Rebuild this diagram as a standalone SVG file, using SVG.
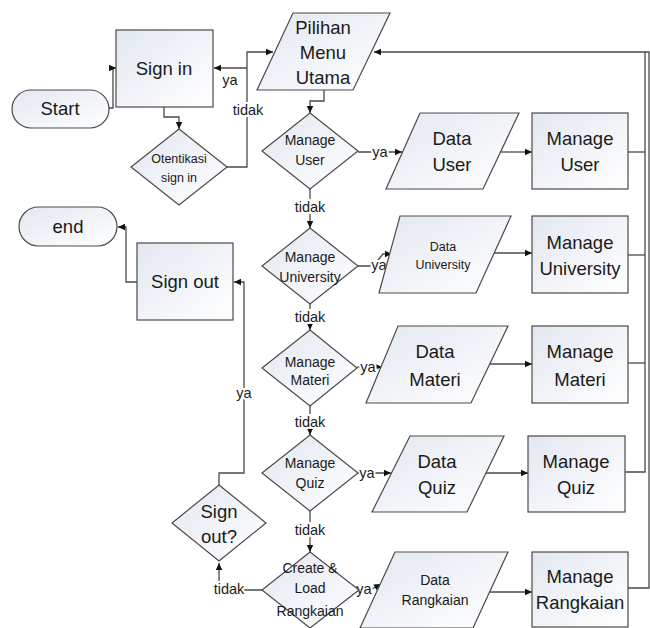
<svg xmlns="http://www.w3.org/2000/svg" width="650" height="628" viewBox="0 0 650 628">
  <defs>
    <linearGradient id="fillGrad" x1="0" y1="0" x2="1" y2="1">
      <stop offset="0" stop-color="#e2e7f0"/>
      <stop offset="1" stop-color="#ffffff"/>
    </linearGradient>
    <marker id="arrow" markerWidth="8" markerHeight="8" refX="7" refY="4" orient="auto" markerUnits="userSpaceOnUse">
      <path d="M0,0.8 L7,4 L0,7.2 Z" fill="#111"/>
    </marker>
  </defs>
  <style>
    .shape { fill: url(#fillGrad); stroke: #4a4a4a; stroke-width: 1.2; }
    .conn { fill: none; stroke: #4a4a4a; stroke-width: 1.3; }
    text { font-family: "Liberation Sans", Arial, sans-serif; fill: #1a1a1a; text-anchor: middle; }
    .big { font-size: 18.5px; }
    .mid { font-size: 14px; }
    .sm { font-size: 12.5px; }
    .lbl { font-size: 14.5px; stroke: #ffffff; stroke-width: 4; paint-order: stroke; }
  </style>
  <rect width="650" height="628" fill="#ffffff"/>

  <!-- connectors -->
  <g id="connectors">
    <path class="conn" d="M109,108 H113 V68 H116" marker-end="url(#arrow)"/>
    <path class="conn" d="M164,107 V117 H179 V129" marker-end="url(#arrow)"/>
    <path class="conn" d="M227,167 H247 V52 H273" marker-end="url(#arrow)"/>
    <path class="conn" d="M247,68 H214" marker-end="url(#arrow)"/>
    <path class="conn" d="M324,90 V101 H310 V113" marker-end="url(#arrow)"/>

    <path class="conn" d="M358,152 H402" marker-end="url(#arrow)"/>
    <path class="conn" d="M500,152 H532" marker-end="url(#arrow)"/>
    <path class="conn" d="M310,189 V228" marker-end="url(#arrow)"/>

    <path class="conn" d="M358,266 H373 L383,254 H392" marker-end="url(#arrow)"/>
    <path class="conn" d="M493,253 H532" marker-end="url(#arrow)"/>
    <path class="conn" d="M310,304 V330" marker-end="url(#arrow)"/>

    <path class="conn" d="M357,367 H382" marker-end="url(#arrow)"/>
    <path class="conn" d="M489,364 H532" marker-end="url(#arrow)"/>
    <path class="conn" d="M310,406 V435" marker-end="url(#arrow)"/>

    <path class="conn" d="M358,473 H391" marker-end="url(#arrow)"/>
    <path class="conn" d="M486,473 H528" marker-end="url(#arrow)"/>
    <path class="conn" d="M310,511 V552" marker-end="url(#arrow)"/>

    <path class="conn" d="M358,590 H370 L381,584" marker-end="url(#arrow)"/>
    <path class="conn" d="M490,592 H532" marker-end="url(#arrow)"/>

    <!-- return lines to the main menu -->
    <path class="conn" d="M628,152 H645"/>
    <path class="conn" d="M628,255 H645"/>
    <path class="conn" d="M628,363 H645"/>
    <path class="conn" d="M625,472 H645 V52"/>
    <path class="conn" d="M628,588 H649 V52 H374" marker-end="url(#arrow)"/>

    <!-- sign out branch -->
    <path class="conn" d="M262,590 H219 V563" marker-end="url(#arrow)"/>
    <path class="conn" d="M219,485 V473 H244 V282 H234" marker-end="url(#arrow)"/>
    <path class="conn" d="M137,282 H126 V227 H118" marker-end="url(#arrow)"/>

    <!-- connector labels -->
    <text class="lbl" x="230" y="85">ya</text>
    <text class="lbl" x="248" y="115">tidak</text>
    <text class="lbl" x="380" y="157">ya</text>
    <text class="lbl" x="310" y="212">tidak</text>
    <text class="lbl" x="379" y="270">ya</text>
    <text class="lbl" x="310" y="322">tidak</text>
    <text class="lbl" x="368" y="372">ya</text>
    <text class="lbl" x="310" y="427">tidak</text>
    <text class="lbl" x="367" y="478">ya</text>
    <text class="lbl" x="310" y="535">tidak</text>
    <text class="lbl" x="364" y="594">ya</text>
    <text class="lbl" x="229" y="594">tidak</text>
    <text class="lbl" x="244" y="398">ya</text>
  </g>

  <g id="start">
    <rect class="shape" x="12" y="90" width="97" height="38" rx="19"/>
    <text class="big" x="60" y="115">Start</text>
  </g>
  <g id="end">
    <rect class="shape" x="19" y="207" width="98" height="39" rx="19.5"/>
    <text class="big" x="68" y="233">end</text>
  </g>
  <g id="sign-in">
    <rect class="shape" x="116" y="30" width="97" height="77"/>
    <text class="big" x="164" y="75">Sign in</text>
  </g>
  <g id="otentikasi">
    <polygon class="shape" points="179,129 227,167 179,205 131,167"/>
    <text class="sm" x="179" y="163">Otentikasi</text>
    <text class="sm" x="179" y="182">sign in</text>
  </g>
  <g id="pilihan-menu">
    <polygon class="shape" points="293,13 390,13 353,90 257,90"/>
    <text class="big" x="323" y="34">Pilihan</text>
    <text class="big" x="323" y="59">Menu</text>
    <text class="big" x="323" y="84">Utama</text>
  </g>
  <g id="sign-out">
    <rect class="shape" x="137" y="243" width="96" height="77"/>
    <text class="big" x="185" y="288">Sign out</text>
  </g>
  <g id="sign-out-q">
    <polygon class="shape" points="219,485 266,523 219,561 172,523"/>
    <text class="big" x="219" y="518">Sign</text>
    <text class="big" x="219" y="543">out?</text>
  </g>

  <g id="manage-user-q">
    <polygon class="shape" points="310,113 358,151 310,189 262,151"/>
    <text class="mid" x="310" y="145">Manage</text>
    <text class="mid" x="310" y="165">User</text>
  </g>
  <g id="data-user">
    <polygon class="shape" points="420,113 519,113 483,189 386,189"/>
    <text class="big" x="452" y="145">Data</text>
    <text class="big" x="452" y="171">User</text>
  </g>
  <g id="manage-user">
    <rect class="shape" x="532" y="113" width="96" height="76"/>
    <text class="big" x="580" y="145">Manage</text>
    <text class="big" x="580" y="171">User</text>
  </g>

  <g id="manage-university-q">
    <polygon class="shape" points="310,228 358,266 310,304 262,266"/>
    <text class="mid" x="310" y="262">Manage</text>
    <text class="mid" x="310" y="282">University</text>
  </g>
  <g id="data-university">
    <polygon class="shape" points="400,216 511,216 476,293 379,293"/>
    <text class="sm" x="443" y="251">Data</text>
    <text class="sm" x="443" y="269">University</text>
  </g>
  <g id="manage-university">
    <rect class="shape" x="532" y="216" width="96" height="77"/>
    <text class="big" x="580" y="249">Manage</text>
    <text class="big" x="580" y="275">University</text>
  </g>

  <g id="manage-materi-q">
    <polygon class="shape" points="310,330 357,368 310,406 262,368"/>
    <text class="mid" x="310" y="367">Manage</text>
    <text class="mid" x="310" y="385">Materi</text>
  </g>
  <g id="data-materi">
    <polygon class="shape" points="398,326 508,326 471,403 366,403"/>
    <text class="big" x="435" y="358">Data</text>
    <text class="big" x="435" y="386">Materi</text>
  </g>
  <g id="manage-materi">
    <rect class="shape" x="532" y="326" width="96" height="77"/>
    <text class="big" x="580" y="358">Manage</text>
    <text class="big" x="580" y="386">Materi</text>
  </g>

  <g id="manage-quiz-q">
    <polygon class="shape" points="310,435 358,473 310,511 262,473"/>
    <text class="mid" x="310" y="468">Manage</text>
    <text class="mid" x="310" y="488">Quiz</text>
  </g>
  <g id="data-quiz">
    <polygon class="shape" points="410,436 504,436 467,512 372,512"/>
    <text class="big" x="437" y="468">Data</text>
    <text class="big" x="437" y="494">Quiz</text>
  </g>
  <g id="manage-quiz">
    <rect class="shape" x="528" y="436" width="97" height="76"/>
    <text class="big" x="576" y="468">Manage</text>
    <text class="big" x="576" y="494">Quiz</text>
  </g>

  <g id="create-load-q">
    <polygon class="shape" points="310,552 359,590 310,628 262,590"/>
    <text class="mid" x="310" y="573">Create &amp;</text>
    <text class="mid" x="310" y="593">Load</text>
    <text class="mid" x="310" y="616">Rangkaian</text>
  </g>
  <g id="data-rangkaian">
    <polygon class="shape" points="395,552 508,552 473,628 360,628"/>
    <text class="mid" x="435" y="585">Data</text>
    <text class="mid" x="435" y="605">Rangkaian</text>
  </g>
  <g id="manage-rangkaian">
    <rect class="shape" x="532" y="552" width="96" height="75"/>
    <text class="big" x="580" y="583">Manage</text>
    <text class="big" x="580" y="609">Rangkaian</text>
  </g>
</svg>
